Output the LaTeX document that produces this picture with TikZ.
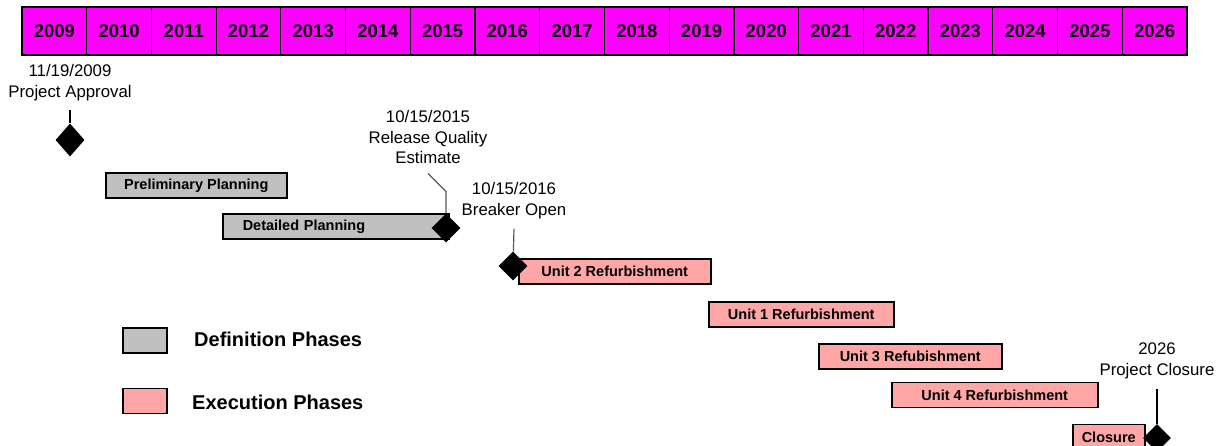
\documentclass[tikz,border=0pt]{standalone}
\usepackage{fontspec}
\setmainfont{Liberation Sans}
\usetikzlibrary{shapes.geometric}
\definecolor{yearfill}{RGB}{255,0,255}
\definecolor{defgrey}{RGB}{192,192,192}
\definecolor{execpink}{RGB}{255,166,166}
\tikzset{
  yearcell/.style={draw, line width=1.2pt, fill=yearfill, minimum width=64.7pt,
    minimum height=48pt, inner sep=0pt, font=\bfseries\fontsize{18.5}{20}\selectfont},
  phasebar/.style={draw, line width=1.5pt, minimum height=25pt, inner sep=0pt,
    anchor=west, font=\bfseries\fontsize{14.5}{16}\selectfont},
  defphase/.style={phasebar, fill=defgrey},
  execphase/.style={phasebar, fill=execpink},
  milestone/.style={diamond, fill=black, inner sep=0pt, minimum width=29pt,
    minimum height=29pt},
  mtext/.style={align=center, font=\fontsize{16.8}{20.8}\selectfont},
  keybox/.style={draw, line width=1.8pt, minimum width=44pt, minimum height=25pt,
    inner sep=0pt},
  keytext/.style={anchor=west, inner sep=0pt, font=\bfseries\fontsize{20}{22}\selectfont}
}
\begin{document}
\begin{tikzpicture}[x=1pt,y=-1pt]
  \useasboundingbox (0,0) rectangle (1219,446);
  \foreach \yr [count=\i from 0] in {2009,...,2026}
    \node[yearcell] (y\yr) at (54.36+64.72*\i,31) {\yr};

  \node[defphase, minimum width=181pt] (prelim) at (105,185.5) {Preliminary Planning};
  \node[defphase, minimum width=226pt, inner xsep=20pt, text width=186pt, align=left]
    (detailed) at (222,226.5) {Detailed Planning};
  \node[execphase, minimum width=192pt] (unit2) at (518,271.5) {Unit 2 Refurbishment};
  \node[execphase, minimum width=185pt] (unit1) at (708,314.5) {Unit 1 Refurbishment};
  \node[execphase, minimum width=183pt] (unit3) at (818,356.5) {Unit 3 Refubishment};
  \node[execphase, minimum width=206pt] (unit4) at (891,395) {Unit 4 Refurbishment};
  \node[execphase, minimum width=72pt] (closure) at (1072,437) {Closure};

  \node[milestone, minimum height=33pt] (approval) at (70,140) {};
  \node[milestone] (estimate) at (446,228) {};
  \node[milestone] (breaker) at (513,266) {};
  \node[milestone, minimum width=28pt, minimum height=28pt] (finish) at (1157,438) {};

  \node[mtext] (approvaltext) at (70,83) {11/19/2009\\Project Approval};
  \node[mtext] (estimatetext) at (428,137) {10/15/2015\\Release Quality\\Estimate};
  \node[mtext] (breakertext) at (514,201) {10/15/2016\\Breaker Open};
  \node[mtext] (finishtext) at (1157,361) {2026\\Project Closure};

  \draw[line width=1.5pt] ([yshift=-5pt]approvaltext.south) -- (approval);
  \draw[gray!70!black, line width=1.2pt] ([yshift=-6pt]estimatetext.south)
    -- ++(18,18) -- (estimate);
  \draw[gray!70!black, line width=1.2pt] ([yshift=-6pt]breakertext.south) -- (breaker);
  \draw[line width=1.5pt] ([yshift=-6pt]finishtext.south) -- (finish);

  \node[keybox, fill=defgrey] (defkey) at (145,340.5) {};
  \node[keytext] (deftext) at (194,339) {Definition Phases};
  \node[keybox, fill=execpink] (execkey) at (145,401) {};
  \node[keytext] (exectext) at (192,402) {Execution Phases};
\end{tikzpicture}
\end{document}
